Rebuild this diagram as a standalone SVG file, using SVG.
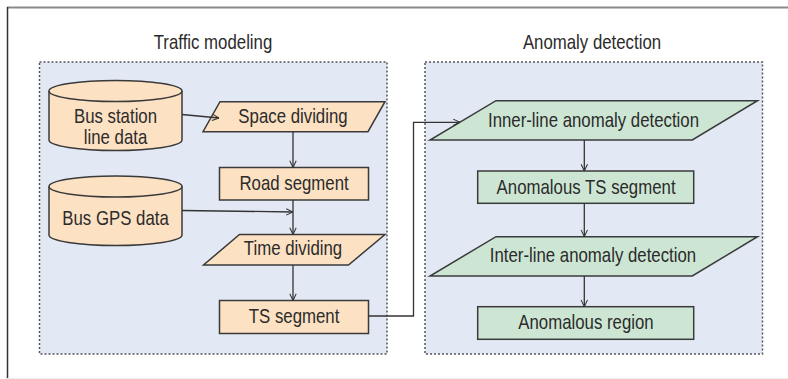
<svg xmlns="http://www.w3.org/2000/svg" width="788" height="379" viewBox="0 0 788 379">
<defs>
<marker id="arr" viewBox="0 0 10 10" refX="9.5" refY="5" markerWidth="8" markerHeight="8" markerUnits="userSpaceOnUse" orient="auto">
<path d="M1,1 L9.5,5 L1,9" fill="none" stroke="#333" stroke-width="1.3"/>
</marker>
</defs>
<style>
text{font-family:"Liberation Sans",Arial,sans-serif;font-size:20.5px;fill:#2b2b2b;text-anchor:middle;transform-box:fill-box;transform-origin:center;transform:scaleX(0.82)}
.o{fill:#FCE1C3;stroke:#3a3a3a;stroke-width:1.5}
.g{fill:#CDE6D4;stroke:#3a3a3a;stroke-width:1.5}
.panel{fill:#E3E9F4;stroke:#555;stroke-width:1.5;stroke-dasharray:2,2}
.c{fill:none;stroke:#333;stroke-width:1.3}
</style>
<rect width="788" height="379" fill="#fff"/>
<line x1="7" y1="7.5" x2="788" y2="7.5" stroke="#8a8a8a" stroke-width="2"/>
<line x1="7.5" y1="7" x2="7.5" y2="379" stroke="#333" stroke-width="1.5"/>
<line x1="7" y1="378.5" x2="788" y2="378.5" stroke="#eeeeee" stroke-width="1"/>

<g id="panel-traffic">
<rect class="panel" x="39.5" y="62" width="347.5" height="292"/>
<text x="213" y="49">Traffic modeling</text>
</g>
<g id="panel-anomaly">
<rect class="panel" x="425" y="62" width="337.5" height="292"/>
<text x="592" y="49">Anomaly detection</text>
</g>

<g id="bus-station">
<path class="o" d="M49,91 L49,140 A66.5,10.5 0 0 0 182,140 L182,91"/>
<ellipse class="o" cx="115.5" cy="91" rx="66.5" ry="10.5"/>
<text x="115.5" y="123.3">Bus station</text>
<text x="115.5" y="144">line data</text>
</g>
<g id="bus-gps">
<path class="o" d="M49,186.5 L49,235 A66.5,10.5 0 0 0 182,235 L182,186.5"/>
<ellipse class="o" cx="115.5" cy="186.5" rx="66.5" ry="10.5"/>
<text x="115.5" y="225">Bus GPS data</text>
</g>
<g id="space-dividing">
<polygon class="o" points="220,101.7 385,101.7 368,131.7 203,131.7"/>
<text x="293" y="123">Space dividing</text>
</g>
<g id="road-segment">
<rect class="o" x="219.5" y="167.5" width="149" height="32.5"/>
<text x="294" y="190.5">Road segment</text>
</g>
<g id="time-dividing">
<polygon class="o" points="239.5,234.5 385,234.5 348.5,265 203.5,265"/>
<text x="293" y="255">Time dividing</text>
</g>
<g id="ts-segment">
<rect class="o" x="219.5" y="300.5" width="149" height="33"/>
<text x="294" y="323">TS segment</text>
</g>

<g id="inner-line">
<polygon class="g" points="496,100.7 757.5,100.7 692.3,140 430,140"/>
<text x="593.5" y="127.5">Inner-line anomaly detection</text>
</g>
<g id="anomalous-ts">
<rect class="g" x="477.7" y="171" width="216" height="32.3"/>
<text x="586" y="194.5">Anomalous TS segment</text>
</g>
<g id="inter-line">
<polygon class="g" points="496,236.7 757.5,236.7 692.3,276 430,276"/>
<text x="593" y="262">Inter-line anomaly detection</text>
</g>
<g id="anomalous-region">
<rect class="g" x="477.7" y="306.7" width="216" height="32.6"/>
<text x="586" y="329.5">Anomalous region</text>
</g>

<g id="connectors">
<line class="c" x1="182" y1="114.5" x2="219" y2="118" marker-end="url(#arr)"/>
<line class="c" x1="293" y1="131.7" x2="293" y2="167.5" marker-end="url(#arr)"/>
<line class="c" x1="293" y1="200" x2="293" y2="234.5" marker-end="url(#arr)"/>
<line class="c" x1="182" y1="210.5" x2="293" y2="212" marker-end="url(#arr)"/>
<line class="c" x1="293" y1="265" x2="293" y2="300.5" marker-end="url(#arr)"/>
<polyline class="c" points="368.5,316 413.5,316 413.5,122.3 460,122.3" marker-end="url(#arr)"/>
<line class="c" x1="584.3" y1="140" x2="584.3" y2="171" marker-end="url(#arr)"/>
<line class="c" x1="584.3" y1="203.3" x2="584.3" y2="236.7" marker-end="url(#arr)"/>
<line class="c" x1="584.3" y1="276" x2="584.3" y2="306.7" marker-end="url(#arr)"/>
</g>
</svg>
